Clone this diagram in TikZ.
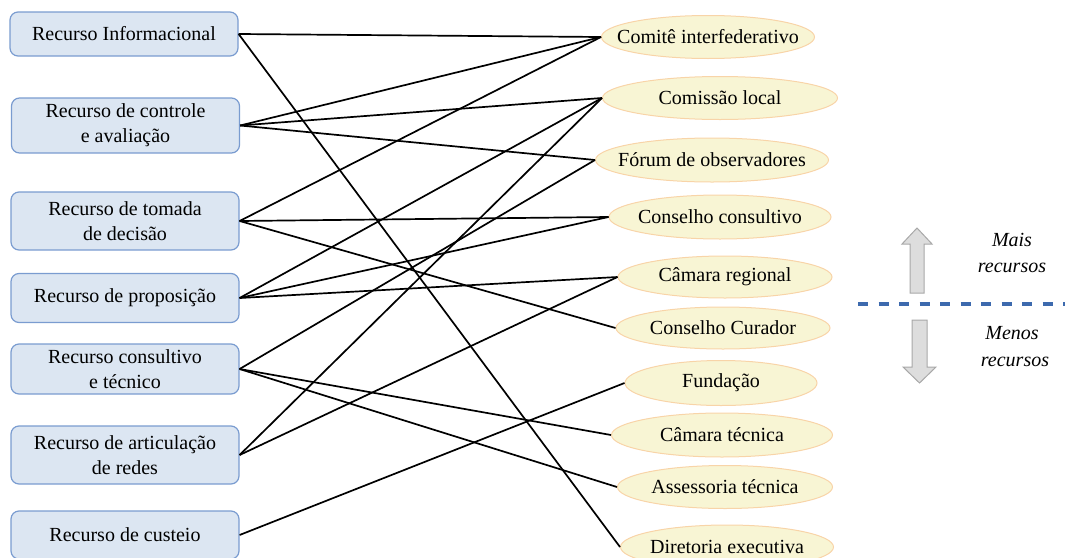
\documentclass[tikz,border=0pt]{standalone}
\usepackage{fontspec}
\setmainfont{Liberation Serif}
\usetikzlibrary{shapes.geometric}
\definecolor{boxfill}{HTML}{DCE6F2}
\definecolor{boxline}{HTML}{7A9CD0}
\definecolor{ellfill}{HTML}{F8F5D4}
\definecolor{ellline}{HTML}{F8D4A8}
\definecolor{arrfill}{HTML}{DDDDDD}
\definecolor{arrline}{HTML}{A8A8A8}
\definecolor{dashblue}{HTML}{3D6AAE}
\newcommand{\ztext}[1]{\makebox[0pt]{#1}}
\tikzset{
  resbox/.style={draw=boxline, fill=boxfill, line width=1.2pt, rounded corners=8pt,
    minimum width=228pt, inner sep=0pt, align=center,
    font=\fontsize{20}{25}\selectfont},
  orgell/.style={ellipse, draw=ellline, fill=ellfill, line width=1pt, inner sep=0pt,
    font=\fontsize{20}{25}\selectfont},
  link/.style={line width=1.7pt, black},
  note/.style={font=\fontsize{20}{25}\selectfont\itshape, inner sep=0pt},
  blockarrow/.style={draw=arrline, fill=arrfill, line width=1pt}
}
\begin{document}
\begin{tikzpicture}[x=1pt,y=-1pt]
\useasboundingbox (0,0) rectangle (1065,557);
% left boxes
\node[resbox, minimum height=44pt] (inf) at (124,34) {Recurso Informacional};
\node[resbox, minimum height=55pt] (ctl) at (125.5,125.5) {Recurso de controle\\e avaliação};
\node[resbox, minimum height=58pt] (tom) at (125,221) {Recurso de tomada\\de decisão};
\node[resbox, minimum height=49pt] (prop) at (125,298) {Recurso de proposição};
\node[resbox, minimum height=50pt] (cons) at (125,369) {Recurso consultivo\\e técnico};
\node[resbox, minimum height=58pt] (art) at (125,455) {Recurso de articulação\\de redes};
\node[resbox, minimum height=48pt] (cust) at (125,535) {Recurso de custeio};
% right ellipses
\node[orgell, minimum width=213pt, minimum height=43pt] (comite) at (708,37) {\ztext{Comitê interfederativo}};
\node[orgell, minimum width=235pt, minimum height=43pt] (comissao) at (720,98) {\ztext{Comissão local}};
\node[orgell, minimum width=233pt, minimum height=44pt] (forum) at (712,160) {\ztext{Fórum de observadores}};
\node[orgell, minimum width=222pt, minimum height=44pt] (conscons) at (720,217) {\ztext{Conselho consultivo}};
\node[orgell, minimum width=214pt, minimum height=42pt] (camreg) at (725,277) {\ztext{Câmara regional}};
\node[orgell, minimum width=214pt, minimum height=42pt] (curador) at (723,328) {\ztext{Conselho Curador}};
\node[orgell, minimum width=192pt, minimum height=45pt] (fund) at (721,383) {\ztext{Fundação}};
\node[orgell, minimum width=221pt, minimum height=44pt] (camtec) at (722,435) {\ztext{Câmara técnica}};
\node[orgell, minimum width=215pt, minimum height=43pt] (assess) at (725,487) {\ztext{Assessoria técnica}};
\node[orgell, minimum width=213pt, minimum height=44pt] (diret) at (727,547) {\ztext{Diretoria executiva}};
% connectors
\draw[link] (inf.east) -- (comite.west);
\draw[link] (inf.east) -- (diret.west);
\draw[link] (ctl.east) -- (comite.west);
\draw[link] (ctl.east) -- (comissao.west);
\draw[link] (ctl.east) -- (forum.west);
\draw[link] (tom.east) -- (comite.west);
\draw[link] (tom.east) -- (conscons.west);
\draw[link] (tom.east) -- (curador.west);
\draw[link] (prop.east) -- (comissao.west);
\draw[link] (prop.east) -- (conscons.west);
\draw[link] (prop.east) -- (camreg.west);
\draw[link] (cons.east) -- (forum.west);
\draw[link] (cons.east) -- (camtec.west);
\draw[link] (cons.east) -- (assess.west);
\draw[link] (art.east) -- (comissao.west);
\draw[link] (art.east) -- (camreg.west);
\draw[link] (cust.east) -- (fund.west);
% legend
\draw[blockarrow] (917,228) -- (932,244) -- (924,244) -- (924,293) -- (910,293) -- (910,244) -- (902,244) -- cycle;
\draw[blockarrow] (912,320) -- (927,320) -- (927,367) -- (936,367) -- (919.5,383) -- (903,367) -- (912,367) -- cycle;
\draw[dashblue, line width=4.5pt, dash pattern=on 10pt off 10.5pt] (858,304) -- (1065,304);
\node[note] (mais) at (1012,240) {Mais};
\node[note] (rec1) at (1012,268) {recursos};
\node[note] (menos) at (1012,333) {Menos};
\node[note] (rec2) at (1015,362) {recursos};
\end{tikzpicture}
\end{document}
